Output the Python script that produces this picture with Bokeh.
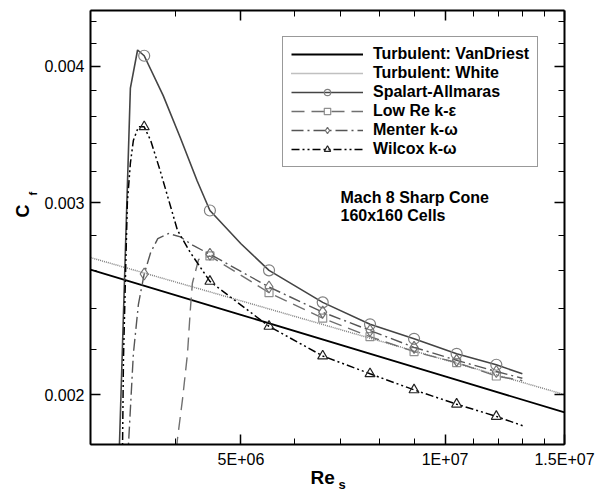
from bokeh.plotting import figure
from bokeh.models import (LogAxis, FixedTicker, Legend, LegendItem, Label, Title,
                          CustomJSTickFormatter)
from bokeh.embed import file_html
from bokeh.resources import INLINE

FONT = "Liberation Sans"

# ---------------- data ----------------
x_tick_values = [5.0e6, 1.0e7, 1.5e7]
x_tick_labels = ["5E+06", "1E+07", "1.5E+07"]
x_minor_ticks = [3e6, 4e6, 6e6, 7e6, 8e6, 9e6, 1.1e7, 1.2e7, 1.3e7, 1.4e7]
y_tick_values = [0.002, 0.003, 0.004]
y_tick_labels = ["0.002", "0.003", "0.004"]
y_minor_ticks = [0.0018, 0.0022, 0.0024, 0.0026, 0.0028, 0.0032, 0.0034,
                 0.0036, 0.0038, 0.0042, 0.0044]

vd_re = [3.0e6, 5.0e6, 1.0e7, 1.5e7]
vd_cf = [0.002604, 0.002367, 0.002078, 0.001926]

white_re = [3.0e6, 5.0e6, 1.0e7, 1.5e7]
white_cf = [0.002671, 0.002438, 0.002152, 0.002000]

marker_re = [3.60e6, 4.50e6, 5.50e6, 6.60e6, 7.75e6, 9.00e6, 1.04e7, 1.19e7]

sa_re = [3.29e6, 3.31e6, 3.435e6, 3.52e6, 3.60e6, 3.84e6, 4.07e6, 4.31e6,
         4.50e6, 5.00e6, 5.50e6, 6.60e6, 7.75e6, 9.00e6, 1.04e7, 1.19e7, 1.30e7]
sa_cf = [0.00174, 0.00180, 0.00382, 0.00414, 0.00409, 0.00376, 0.00344, 0.00314,
         0.00295, 0.00275, 0.00260, 0.00243, 0.00232, 0.00225, 0.00218, 0.00213, 0.00209]

le_re = [4.016e6, 4.03e6, 4.10e6, 4.17e6, 4.21e6, 4.24e6, 4.33e6, 4.50e6,
         5.50e6, 6.60e6, 7.75e6, 9.00e6, 1.04e7, 1.19e7, 1.30e7]
le_cf = [0.00178, 0.00182, 0.00198, 0.00218, 0.00239, 0.00253, 0.00266, 0.00268,
         0.00248, 0.00235, 0.00226, 0.00219, 0.00214, 0.00208, 0.00206]

mk_re = [3.40e6, 3.413e6, 3.47e6, 3.53e6, 3.60e6, 3.68e6, 3.77e6, 3.91e6, 4.07e6,
         4.25e6, 4.50e6, 5.50e6, 6.60e6, 7.75e6, 9.00e6, 1.04e7, 1.19e7, 1.30e7]
mk_cf = [0.00174, 0.00180, 0.00218, 0.00242, 0.00258, 0.00270, 0.00278, 0.00281, 0.00279,
         0.00274, 0.00269, 0.00251, 0.00238, 0.00229, 0.00221, 0.00215, 0.00210, 0.00207]

wk_re = [3.30e6, 3.345e6, 3.355e6, 3.38e6, 3.40e6, 3.435e6, 3.47e6, 3.53e6, 3.60e6,
         3.68e6, 3.80e6, 4.03e6, 4.21e6, 4.50e6, 5.50e6, 6.60e6, 7.75e6, 9.00e6,
         1.04e7, 1.19e7, 1.31e7]
wk_cf = [0.00174, 0.00180, 0.00215, 0.00260, 0.00300, 0.00326, 0.00342, 0.00352, 0.00352,
         0.00342, 0.00321, 0.00283, 0.00270, 0.00254, 0.00231, 0.00217, 0.00209, 0.00202,
         0.00196, 0.00191, 0.00187]

legend_labels = ["Turbulent: VanDriest", "Turbulent: White", "Spalart-Allmaras",
                 "Low Re k-\u03b5", "Menter k-\u03c9", "Wilcox k-\u03c9"]
note_lines = ["Mach 8 Sharp Cone", "160x160 Cells"]
x_title = ["Re", "s"]
y_title = ["C", "f"]


def markers_of(re_list, cf_list):
    lookup = dict(zip(re_list, cf_list))
    xs = [r for r in marker_re if r in lookup]
    return xs, [lookup[r] for r in xs]


# ---------------- figure ----------------
p = figure(width=608, height=493, x_axis_type="log", y_axis_type="log",
           x_range=(3.0e6, 1.5e7), y_range=(0.0018, 0.0045),
           output_backend="svg", toolbar_location=None,
           min_border_left=90, min_border_right=44,
           min_border_top=10, min_border_bottom=49)
p.xgrid.visible = False
p.ygrid.visible = False
p.outline_line_color = None
p.background_fill_color = "white"
p.border_fill_color = "white"


def style_axis(ax):
    ax.axis_line_width = 2
    ax.axis_line_color = "black"
    ax.major_tick_in = 10
    ax.major_tick_out = 0
    ax.minor_tick_in = 6
    ax.minor_tick_out = 0
    ax.major_tick_line_width = 1.5
    ax.minor_tick_line_width = 1
    ax.major_tick_line_color = "black"
    ax.minor_tick_line_color = "black"
    ax.major_label_text_font = FONT
    ax.major_label_text_font_size = "16px"
    ax.major_label_text_color = "black"


xa = p.xaxis[0]
xa.ticker = FixedTicker(ticks=x_tick_values, minor_ticks=x_minor_ticks)
xa.major_label_overrides = dict(zip(x_tick_values, x_tick_labels))
style_axis(xa)
xa.major_label_standoff = 6

ya = p.yaxis[0]
ya.ticker = FixedTicker(ticks=y_tick_values, minor_ticks=y_minor_ticks)
ya.major_label_overrides = dict(zip(y_tick_values, y_tick_labels))
style_axis(ya)
ya.major_label_standoff = 6

top_ax = LogAxis(ticker=FixedTicker(ticks=x_tick_values, minor_ticks=x_minor_ticks),
                 formatter=CustomJSTickFormatter(code="return ''"))
style_axis(top_ax)
top_ax.major_label_standoff = 0
top_ax.major_label_text_font_size = "0px"
p.add_layout(top_ax, "above")

right_ax = LogAxis(ticker=FixedTicker(ticks=y_tick_values, minor_ticks=y_minor_ticks),
                   formatter=CustomJSTickFormatter(code="return ''"))
style_axis(right_ax)
right_ax.major_label_standoff = 0
right_ax.major_label_text_font_size = "0px"
p.add_layout(right_ax, "right")

# ---------------- axis titles (with subscripts) ----------------
p.add_layout(Title(text=x_title[0], align="left", offset=220, standoff=-11,
                   vertical_align="bottom", text_font=FONT, text_font_style="bold",
                   text_font_size="19px", text_color="black"), "below")
p.add_layout(Title(text=x_title[1], align="left", offset=248, standoff=-18,
                   vertical_align="bottom", text_font=FONT, text_font_style="bold",
                   text_font_size="13px", text_color="black"), "below")
p.add_layout(Title(text=y_title[0], align="left", offset=227, standoff=16,
                   vertical_align="middle", text_font=FONT, text_font_style="bold",
                   text_font_size="18px", text_color="black"), "left")
p.add_layout(Title(text=y_title[1], align="left", offset=249, standoff=-70,
                   vertical_align="bottom", text_font=FONT, text_font_style="bold",
                   text_font_size="11px", text_color="black"), "left")

# ---------------- series ----------------
items = []

r = p.line(vd_re, vd_cf, line_color="black", line_width=1.8)
items.append(LegendItem(label=legend_labels[0], renderers=[r]))

r = p.line(white_re, white_cf, line_color="#808080", line_width=1.5, line_dash="1 1")
items.append(LegendItem(label=legend_labels[1], renderers=[r]))

r1 = p.line(sa_re, sa_cf, line_color="#444444", line_width=1.6)
mx, my = markers_of(sa_re, sa_cf)
r2 = p.scatter(mx, my, marker="circle", size=11, fill_color=None,
               line_color="#808080", line_width=1.2)
items.append(LegendItem(label=legend_labels[2], renderers=[r1, r2]))

r1 = p.line(le_re, le_cf, line_color="#707070", line_width=1.4, line_dash="13 7")
mx, my = markers_of(le_re, le_cf)
r2 = p.scatter(mx, my, marker="square", size=8, fill_color=None,
               line_color="#909090", line_width=1.2)
items.append(LegendItem(label=legend_labels[3], renderers=[r1, r2]))

r1 = p.line(mk_re, mk_cf, line_color="#555555", line_width=1.4, line_dash="12 4 2 4")
mx, my = markers_of(mk_re, mk_cf)
r2 = p.scatter(mx, my, marker="diamond", size=12, fill_color=None,
               line_color="#707070", line_width=1.2)
items.append(LegendItem(label=legend_labels[4], renderers=[r1, r2]))

r1 = p.line(wk_re, wk_cf, line_color="black", line_width=1.5, line_dash="8 3 2 3 2 3")
mx, my = markers_of(wk_re, wk_cf)
r2 = p.scatter(mx, my, marker="triangle", size=10, fill_color=None,
               line_color="#222222", line_width=1.2)
items.append(LegendItem(label=legend_labels[5], renderers=[r1, r2]))

legend = Legend(items=items, location=(192, 277))
legend.label_text_font = FONT
legend.label_text_font_style = "bold"
legend.label_text_font_size = "16px"
legend.label_text_color = "black"
legend.glyph_width = 72
legend.glyph_height = 16
legend.label_height = 16
legend.spacing = 1
legend.padding = 8
legend.margin = 0
legend.label_standoff = 10
legend.border_line_color = "#333333"
legend.border_line_width = 1
legend.background_fill_color = "white"
legend.background_fill_alpha = 1.0
p.add_layout(legend, "center")

# ---------------- note ----------------
for i, txt in enumerate(note_lines):
    p.add_layout(Label(x=250, y=247 - 18 * i, x_units="screen", y_units="screen",
                       text=txt, text_font=FONT, text_font_style="bold",
                       text_font_size="16px", text_color="black",
                       text_align="left", text_baseline="middle"))

open("out.html", "w").write(file_html(p, INLINE))
